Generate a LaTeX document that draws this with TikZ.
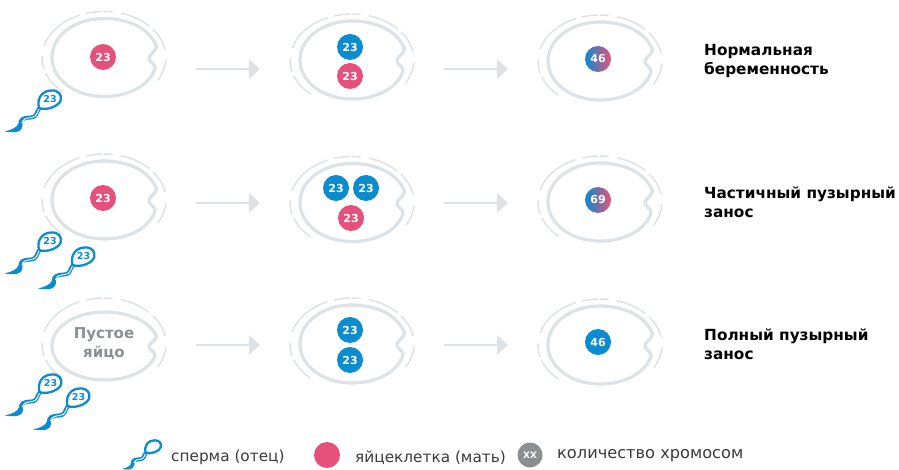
\documentclass[tikz,border=0pt]{standalone}
\usepackage{fontspec}
\setmainfont{DejaVu Sans}
\definecolor{eggc}{HTML}{DDE2E6}
\definecolor{bluec}{HTML}{0A8CCF}
\definecolor{pinkc}{HTML}{E5517C}
\definecolor{midc}{HTML}{A879A6}
\definecolor{greyc}{HTML}{8C8F91}
\definecolor{txtc}{HTML}{3A3A3A}
\newcommand\eggpath{(52.5,-11) .. controls (46,-29) and (24,-39) .. (0,-39)
    .. controls (-29,-39) and (-52,-22) .. (-52,0)
    .. controls (-52,22) and (-29,39) .. (0,39)
    .. controls (26,39) and (46,27) .. (51,11)
    .. controls (52,6) and (44,5) .. (45,0)
    .. controls (46,-4) and (52,-6) .. (52.5,-11) -- cycle}
\newcommand\eggdashes{\foreach \a/\b in {-30/-3,10/38,43/74,82/90,92/107,113/165,178/195,200/228}
   \draw[dashline] ({62*cos(\a)},{-46*sin(\a)}) arc[start angle=-\a,end angle=-\b,x radius=62,y radius=46];}
\tikzset{
 x=1pt,y=-1pt,
 ringline/.style={draw=eggc,line width=3.2pt},
 dashline/.style={draw=eggc,line width=1.5pt},
 chrom/.style={circle,minimum size=26pt,inner sep=0pt,text=white,font=\fontsize{11}{12}\selectfont\bfseries},
 chb/.style={chrom,fill=bluec},
 chp/.style={chrom,fill=pinkc},
 chg/.style={chrom,left color=bluec,middle color=midc,right color=pinkc},
 label/.style={anchor=west,inner sep=0pt,align=left,text=black,font=\fontsize{15.3}{19}\selectfont\bfseries},
 legend/.style={anchor=west,inner sep=0pt,text=txtc,font=\fontsize{15.3}{17}\selectfont},
 pics/egg/.style={code={
  \draw[ringline] \eggpath;
  \eggdashes
 }},
 pics/eggflat/.style={code={
  \draw[ringline,shift={(0,2)},yscale=.87] \eggpath;
  \eggdashes
 }},
 pics/sperm/.style={code={
  \fill[bluec] (-31.5,24) .. controls (-32,27) and (-38,30) .. (-45,31.5) .. controls (-36,33) and (-27,33) .. (-27,25) -- cycle;
  \draw[bluec,line width=4pt] (-10,8) .. controls (-14,13) and (-12,17) .. (-19,17.5)
    .. controls (-27,18) and (-29,19) .. (-29.3,25);
  \draw[white,line width=.9pt] (-27.5,23) .. controls (-27,19) and (-23,18) .. (-18,17.5)
    .. controls (-12,17) and (-13,12) .. (-8.5,6);
  \draw[bluec,line width=2.3pt,fill=white] (-10.5,8) .. controls (-13,-2) and (-7,-9.5) .. (2,-9.5)
    .. controls (9,-10) and (12.5,-5) .. (11.2,0) .. controls (10,6) and (-3,11) .. (-10.5,8) -- cycle;
  \node[text=bluec,font=\fontsize{9.5}{10}\selectfont\bfseries] at (0.5,-0.5) {#1};
 }}
}
\begin{document}
\begin{tikzpicture}
\useasboundingbox (0,0) rectangle (899,470);
\foreach \xx/\yy in {104/57.5,352/60,600/61,104/200,352/202.5,600/202,352/344,600/345}
 \pic at (\xx,\yy) {egg};
\pic at (104,344) {eggflat};
\foreach \yy in {69,203,345}{
 \draw[eggc,line width=2.5pt] (196,\yy) -- (250,\yy);
 \fill[eggc] (249,\yy-10) -- (260,\yy) -- (249,\yy+10) -- cycle;
 \draw[eggc,line width=2.5pt] (444,\yy) -- (498,\yy);
 \fill[eggc] (497,\yy-10) -- (508,\yy) -- (497,\yy+10) -- cycle;
}
\node[chp] (a1) at (103,57) {23};
\node[chb] (b1) at (350,47) {23};
\node[chp] (b2) at (350,76) {23};
\node[chg] (c1) at (598,59) {46};
\node[label] (t1) at (704,61) {Нормальная\\беременность};
\node[chp] (a2) at (103,198) {23};
\node[chb] (b3) at (336,188) {23};
\node[chb] (b4) at (366,188) {23};
\node[chp] (b5) at (351,218) {23};
\node[chg] (c2) at (598,200) {69};
\node[label] (t2) at (704,202.5) {Частичный пузырный\\занос};
\node[text=greyc,align=center,inner sep=0pt,font=\fontsize{15}{19}\selectfont\bfseries] (a3) at (104,344) {Пустое\\яйцо};
\node[chb] (b6) at (350,330) {23};
\node[chb] (b7) at (350,360) {23};
\node[chb] (c3) at (598,342) {46};
\node[label] (t3) at (704,344) {Полный пузырный\\занос};
\pic at (49.5,100) {sperm=23};
\pic at (49.5,242) {sperm=23};
\pic at (83,257) {sperm=23};
\pic at (50,384) {sperm=23};
\pic at (78,398) {sperm=23};
\pic[scale=.7] at (153,447) {sperm=};
\node[legend] (l1) at (171,457.5) {сперма (отец)};
\node[chp] (l2) at (327,455) {};
\node[legend] (l3) at (355,457.5) {яйцеклетка (мать)};
\node[chrom,fill=greyc,minimum size=25pt,font=\fontsize{9}{10}\selectfont\bfseries] (l4) at (530,455) {XX};
\node[legend,font=\fontsize{16.2}{17}\selectfont] (l5) at (557,456) {количество хромосом};
\end{tikzpicture}
\end{document}
